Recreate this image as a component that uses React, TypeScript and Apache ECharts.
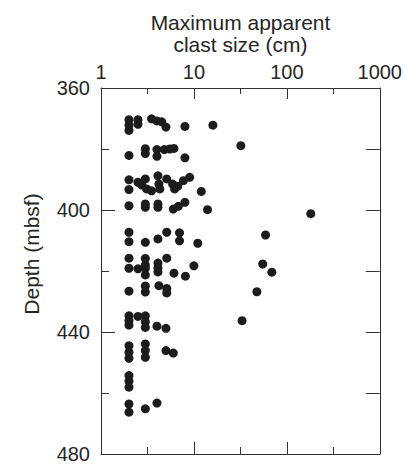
import React, { useEffect, useRef } from "react";
import * as echarts from "echarts";

// [clast size (cm), depth (mbsf)] grouped by depth interval
const group370: number[][] = [
  [2, 370.4], [2, 372.2], [2, 373.9], [2.5, 370.4], [2.5, 371.9], [3.5, 370.1],
  [4, 370.8], [4.5, 371.1], [5, 372.8], [8, 372.6], [16, 372.2],
];
const group380: number[][] = [
  [2, 382.1], [3, 379.9], [3, 381.5], [4, 380.2], [4, 382.4], [4.8, 380.2],
  [5.5, 380], [6.1, 379.8], [8, 382.9], [32, 378.9],
];
const group390: number[][] = [
  [2, 390.1], [2, 393.3], [2.5, 390.9], [2.75, 391.8], [3, 389.8], [3.1, 393.1],
  [3.5, 393.7], [4.1, 388.8], [4.2, 391.5], [4.3, 393.1], [5.1, 389.8], [5.9, 391.5],
  [6.2, 393.1], [6.7, 392.2], [7.7, 390.4], [9, 389.3], [12, 393.9],
];
const group400: number[][] = [
  [2, 398.6], [3, 398], [3, 399.1], [4.1, 398], [4.1, 399.1], [6, 399.7],
  [6.8, 398.8], [8, 397.5], [14, 399.9], [181, 401.2],
];
const group410: number[][] = [
  [2, 407.3], [2, 410.4], [3, 410.6], [4.1, 409.5], [5.1, 407.3], [7, 407.5],
  [7, 410.1], [11, 410.9], [59, 408.2],
];
const group420: number[][] = [
  [2, 415.8], [2, 419.1], [2.5, 419.3], [3, 415.9], [3, 418], [3, 419.1], [3, 421.3],
  [4.1, 417.4], [4.1, 419], [4.1, 420.3], [5.1, 415.8], [6.1, 420.7], [8.1, 421.7],
  [10, 418.3], [55, 417.7], [69, 420.4],
];
const group425: number[][] = [
  [2, 426.6], [3, 424.9], [3, 426.9], [4.2, 424.8], [5.1, 425.7], [5.1, 427.2], [47.6, 426.8],
];
const group436: number[][] = [
  [2, 434.7], [2, 436.3], [2, 437.7], [2.5, 434.9], [3, 434.7], [3, 436.6], [3, 438.5],
  [4, 438.1], [5, 438.8], [33, 436.3],
];
const group446: number[][] = [
  [2, 444.5], [2, 446.6], [2, 448.6], [3, 443.9], [3, 446.1], [3, 448.3], [5, 446.1], [6, 446.9],
];
const group456: number[][] = [[2, 454.3], [2, 456.1], [2, 458.1]];
const group464: number[][] = [[2, 463.6], [2, 466.3], [3, 465.2], [4, 463.3]];

const xTickLabels = [1, 10, 100, 1000];
const yTickLabels = [360, 400, 440, 480];
const titleText = "Maximum apparent\nclast size (cm)";
const yName = "Depth (mbsf)";

const FONT = "Liberation Sans";
const INK = "#262626";

export default function App() {
  const ref = useRef<HTMLDivElement>(null);
  useEffect(() => {
    if (!ref.current) return;
    const chart = echarts.init(ref.current, undefined, { renderer: "svg" });
    const data = [
      ...group370, ...group380, ...group390, ...group400, ...group410, ...group420,
      ...group425, ...group436, ...group446, ...group456, ...group464,
    ];
    const lineStyle = { color: "#333", width: 1 };
    chart.setOption({
      animation: false,
      backgroundColor: "#fff",
      grid: { left: 101, right: 25, top: 88, bottom: 9, containLabel: false },
      graphic: [
        {
          type: "text",
          x: 240.5,
          y: 33,
          style: {
            text: titleText,
            fill: INK,
            fontSize: 21,
            fontFamily: FONT,
            textAlign: "center",
            textVerticalAlign: "middle",
            lineHeight: 22,
          },
        },
        {
          type: "text",
          x: 31,
          y: 254,
          rotation: Math.PI / 2,
          style: {
            text: yName,
            fill: INK,
            fontSize: 21,
            fontFamily: FONT,
            textAlign: "center",
            textVerticalAlign: "middle",
          },
        },
      ],
      xAxis: [
        {
          type: "log",
          logBase: 10,
          position: "top",
          min: xTickLabels[0],
          max: xTickLabels[xTickLabels.length - 1],
          axisLine: { show: true, lineStyle },
          axisTick: { show: true, inside: true, length: 11, lineStyle },
          axisLabel: {
            show: true,
            color: INK,
            fontSize: 20,
            fontFamily: FONT,
            margin: 6,
            formatter: (v: number) => String(Math.round(v)),
          },
          splitLine: { show: false },
        },
        {
          type: "value",
          position: "top",
          min: 0,
          max: 3,
          interval: 0.5,
          axisLine: { show: false },
          axisTick: { show: true, inside: true, length: 6, lineStyle },
          axisLabel: { show: false },
          splitLine: { show: false },
        },
        {
          type: "value",
          position: "bottom",
          min: 0,
          max: 3,
          interval: 1,
          axisLine: { show: true, onZero: false, lineStyle },
          axisTick: { show: true, inside: true, length: 12, lineStyle },
          axisLabel: { show: false },
          splitLine: { show: false },
        },
        {
          type: "value",
          position: "bottom",
          min: 0,
          max: 3,
          interval: 0.5,
          axisLine: { show: false },
          axisTick: { show: true, inside: true, length: 7, lineStyle },
          axisLabel: { show: false },
          splitLine: { show: false },
        },
      ],
      yAxis: [
        {
          type: "value",
          position: "left",
          inverse: true,
          min: yTickLabels[0],
          max: yTickLabels[yTickLabels.length - 1],
          interval: 40,
          axisLine: { show: true, onZero: false, lineStyle },
          axisTick: { show: true, inside: true, length: 14, lineStyle },
          axisLabel: { show: true, color: INK, fontSize: 20, fontFamily: FONT, margin: 11 },
          splitLine: { show: false },
        },
        {
          type: "value",
          position: "left",
          inverse: true,
          min: 360,
          max: 480,
          interval: 20,
          axisLine: { show: false },
          axisTick: { show: true, inside: true, length: 8, lineStyle },
          axisLabel: { show: false },
          splitLine: { show: false },
        },
        {
          type: "value",
          position: "right",
          inverse: true,
          min: 360,
          max: 480,
          interval: 20,
          axisLine: { show: true, onZero: false, lineStyle },
          axisTick: { show: true, inside: true, length: 14, lineStyle },
          axisLabel: { show: false },
          splitLine: { show: false },
        },
      ],
      series: [
        {
          type: "scatter",
          xAxisIndex: 0,
          yAxisIndex: 0,
          symbol: "circle",
          symbolSize: 9,
          itemStyle: { color: "#1c1c1c", opacity: 1 },
          data,
        },
      ],
    });
    return () => chart.dispose();
  }, []);
  return (
    <div
      ref={ref}
      style={{ position: "fixed", left: 0, top: 0, width: 405, height: 464 }}
    />
  );
}
